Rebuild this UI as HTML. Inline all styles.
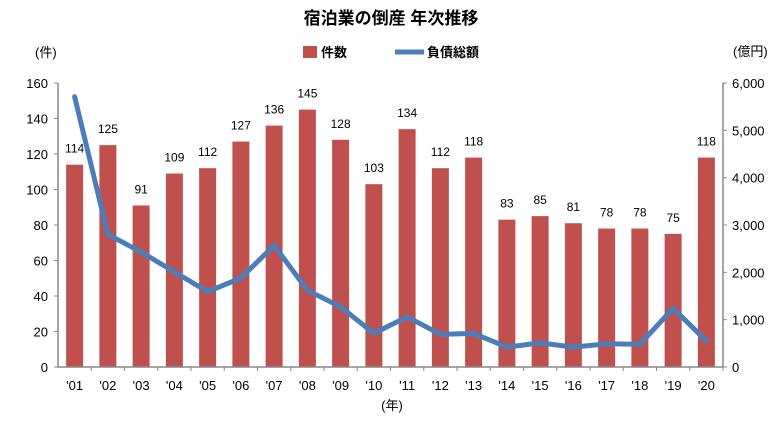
<!DOCTYPE html>
<html><head><meta charset="utf-8"><style>
body{margin:0;background:#fff;}
svg text{font-family:"Liberation Sans","Noto Sans CJK JP",sans-serif;}
</style></head><body>
<svg id="chart" width="782" height="422" xmlns="http://www.w3.org/2000/svg">
<text x="391" y="24" text-anchor="middle" font-size="17" font-weight="bold" fill="#000">宿泊業の倒産 年次推移</text>
<g>
<rect x="303" y="46" width="14" height="12" fill="#c0504d"/>
<text x="321" y="57" font-size="13" font-weight="bold">件数</text>
<line x1="395" y1="52" x2="424" y2="52" stroke="#4a7ebb" stroke-width="5"/>
<text x="427" y="57" font-size="13" font-weight="bold">負債総額</text>
</g>
<text x="35" y="57" font-size="13">(件)</text>
<text x="733" y="56" font-size="13">(億円)</text>
<text x="392" y="410" text-anchor="middle" font-size="13">(年)</text>
<g id="plot"></g>
</svg>
<script>
const categories=["'01","'02","'03","'04","'05","'06","'07","'08","'09","'10","'11","'12","'13","'14","'15","'16","'17","'18","'19","'20"];
const counts=[114,125,91,109,112,127,136,145,128,103,134,112,118,83,85,81,78,78,75,118];
const debts=[5710,2800,2430,2010,1590,1880,2570,1620,1270,710,1060,690,710,420,510,420,490,480,1240,550];
const leftTicks=[0,20,40,60,80,100,120,140,160];
const rightTicks=[0,1000,2000,3000,4000,5000,6000];
const rightTickLabels=["0","1,000","2,000","3,000","4,000","5,000","6,000"];
const X0=58,X1=723,Y0=367,Y1=83;
const bw=(X1-X0)/categories.length;
const xc=i=>X0+bw*(i+0.5);
const yL=v=>Y0-(v/160)*(Y0-Y1);
const yR=v=>Y0-(v/6000)*(Y0-Y1);
const NS="http://www.w3.org/2000/svg";
const g=document.getElementById('plot');
function mk(t,a){const e=document.createElementNS(NS,t);for(const k in a)e.setAttribute(k,a[k]);g.appendChild(e);return e;}
counts.forEach((v,i)=>{
 const r=mk('rect',{x:xc(i)-8.5,y:yL(v),width:17,height:Y0-yL(v),fill:'#c0504d'});
 
 
 const t=mk('text',{x:xc(i),y:yL(v)-12,'text-anchor':'middle','font-size':'12'});t.textContent=v;
 
 
 const xt=mk('text',{x:xc(i),y:390,'text-anchor':'middle','font-size':'13'});xt.textContent=categories[i];
 
 
 const tk=mk('line',{x1:X0+bw*(i+1),y1:Y0,x2:X0+bw*(i+1),y2:Y0+4,stroke:'#888'});
 
 
});
const ax=mk('path',{d:`M${X0},${Y1}V${Y0}H${X1}V${Y1}`,fill:'none',stroke:'#888','stroke-width':1.5});


leftTicks.forEach(v=>{
 const l=mk('line',{x1:X0-4,y1:yL(v),x2:X0,y2:yL(v),stroke:'#888'});
 
 
 const t=mk('text',{x:X0-10,y:yL(v)+5,'text-anchor':'end','font-size':'13'});t.textContent=v;
 
 
});
rightTicks.forEach((v,i)=>{
 const l=mk('line',{x1:X1,y1:yR(v),x2:X1+4,y2:yR(v),stroke:'#888'});
 
 
 const t=mk('text',{x:X1+9,y:yR(v)+5,'font-size':'13'});t.textContent=rightTickLabels[i];
 
 
});
const pl=mk('polyline',{points:debts.map((v,i)=>xc(i)+','+yR(v)).join(' '),fill:'none',stroke:'#4a7ebb','stroke-width':5,'stroke-linejoin':'round','stroke-linecap':'round'});


</script>
</body></html>
